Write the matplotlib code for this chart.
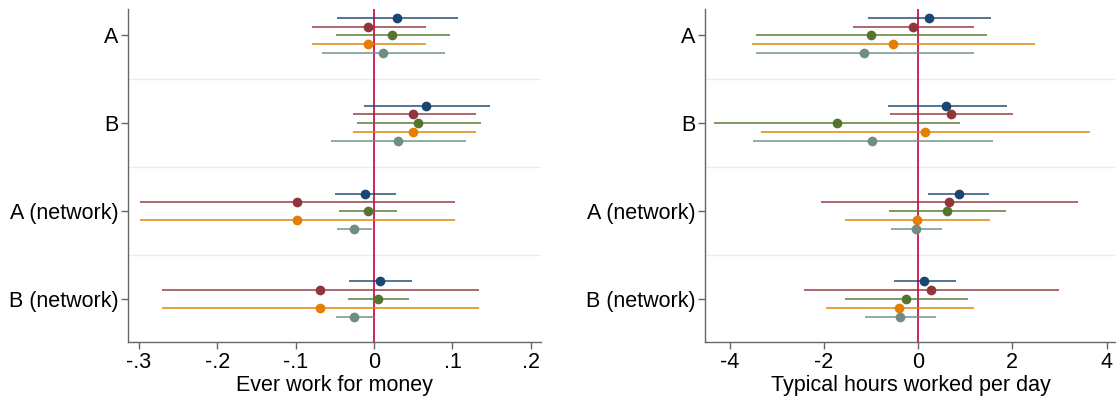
import numpy as np
import matplotlib.pyplot as plt

plt.rcParams['font.family'] = ['Liberation Sans', 'DejaVu Sans']

groups = ['A', 'B', 'A (network)', 'B (network)']
colors = ['#1a476f', '#90353b', '#55752f', '#e37e00', '#6e8e84']

# Ever work for money: point estimates and CIs, rows = groups, cols = series
money_est = [[0.029, -0.008, 0.023, -0.008, 0.011],
             [0.066, 0.050, 0.056, 0.050, 0.031],
             [-0.012, -0.098, -0.008, -0.098, -0.026],
             [0.008, -0.069, 0.005, -0.069, -0.025]]
money_lo = [[-0.047, -0.079, -0.049, -0.079, -0.066],
            [-0.013, -0.027, -0.022, -0.027, -0.055],
            [-0.050, -0.298, -0.045, -0.298, -0.047],
            [-0.032, -0.270, -0.033, -0.270, -0.049]]
money_hi = [[0.107, 0.066, 0.097, 0.066, 0.091],
            [0.148, 0.130, 0.136, 0.130, 0.117],
            [0.028, 0.103, 0.029, 0.103, -0.003],
            [0.049, 0.134, 0.044, 0.134, 0.000]]

# Typical hours worked per day
hours_est = [[0.23, -0.11, -1.00, -0.53, -1.14],
             [0.60, 0.70, -1.73, 0.15, -0.97],
             [0.86, 0.66, 0.62, -0.02, -0.04],
             [0.13, 0.28, -0.25, -0.40, -0.39]]
hours_lo = [[-1.07, -1.38, -3.43, -3.53, -3.43],
            [-0.64, -0.59, -4.33, -3.33, -3.51],
            [0.21, -2.05, -0.62, -1.54, -0.57],
            [-0.51, -2.42, -1.55, -1.96, -1.12]]
hours_hi = [[1.55, 1.19, 1.46, 2.48, 1.19],
            [1.88, 2.02, 0.88, 3.64, 1.60],
            [1.51, 3.40, 1.86, 1.53, 0.50],
            [0.80, 3.00, 1.07, 1.18, 0.38]]

fig = plt.figure(figsize=(11.16, 3.99), dpi=100)
ax1 = fig.add_axes([128 / 1116, 57 / 399, 413 / 1116, 333 / 399])
ax2 = fig.add_axes([705 / 1116, 57 / 399, 411 / 1116, 333 / 399])

offsets = [-0.2, -0.1, 0.0, 0.1, 0.2]
fs = 15.5


def coefplot(ax, est, lo, hi, xlim, ticks, ticklabels, xlabel):
    est, lo, hi = np.array(est), np.array(lo), np.array(hi)
    ypos = np.arange(1, len(groups) + 1)
    for s in [1.5, 2.5, 3.5]:
        ax.axhline(s, color='#e9eeee', lw=1.0, zorder=0)
    ax.axvline(0, color='#d0104c', lw=1.3, zorder=1)
    for j in range(5):
        y = ypos + offsets[j]
        ax.hlines(y, lo[:, j], hi[:, j], color=colors[j], lw=1.2, alpha=0.88, zorder=2)
        ax.plot(est[:, j], y, 'o', color=colors[j], ms=7, mec='none', zorder=3)
    ax.set_ylim(4.49, 0.70)
    ax.set_xlim(*xlim)
    ax.set_yticks(ypos)
    ax.set_yticklabels(groups, fontsize=fs)
    ax.set_xticks(ticks)
    ax.set_xticklabels(ticklabels, fontsize=fs)
    ax.set_xlabel(xlabel, fontsize=fs, labelpad=2)
    for side in ['top', 'right']:
        ax.spines[side].set_visible(False)
    for side in ['left', 'bottom']:
        ax.spines[side].set_color('#666666')
        ax.spines[side].set_linewidth(1.0)
    ax.tick_params(axis='both', color='#666666', length=5, width=1.0)
    ax.tick_params(axis='y', pad=2)
    ax.tick_params(axis='x', pad=2)


coefplot(ax1, money_est, money_lo, money_hi, (-0.3138, 0.2129),
         [-0.3, -0.2, -0.1, 0, 0.1, 0.2], ['-.3', '-.2', '-.1', '0', '.1', '.2'],
         'Ever work for money')
coefplot(ax2, hours_est, hours_lo, hours_hi, (-4.52, 4.2),
         [-4, -2, 0, 2, 4], ['-4', '-2', '0', '2', '4'],
         'Typical hours worked per day')

fig.savefig('out.png', dpi=100)
